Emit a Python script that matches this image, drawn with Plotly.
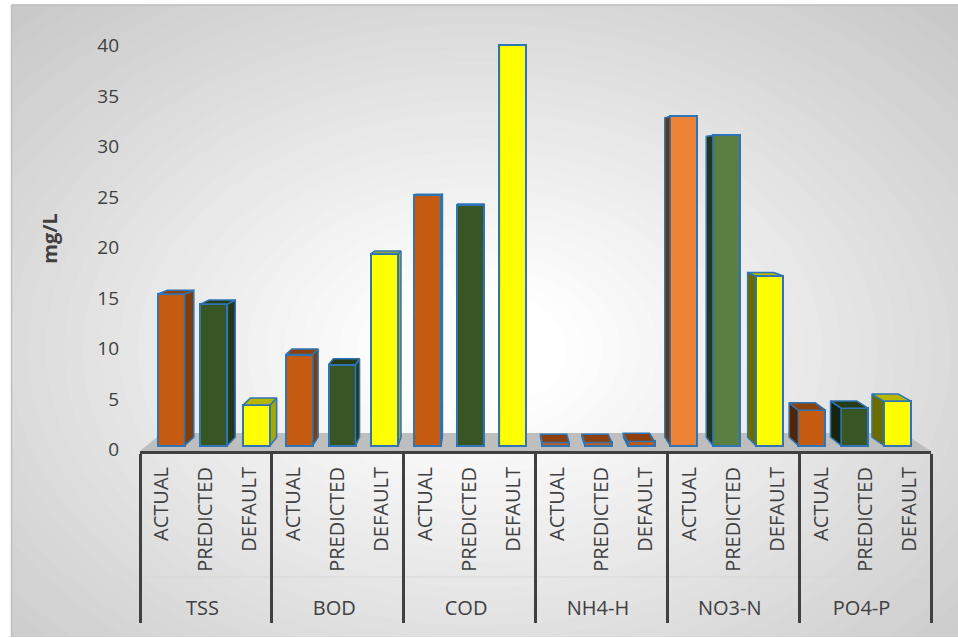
import plotly.graph_objects as go

# ---------------- data ----------------
groups = ["TSS", "BOD", "COD", "NH4-H", "NO3-N", "PO4-P"]
series = ["ACTUAL", "PREDICTED", "DEFAULT"]
actual = [15.0, 9.0, 24.8, 0.3, 32.6, 3.5]
predicted = [14.0, 8.0, 23.8, 0.3, 30.7, 3.7]
default = [4.0, 19.0, 39.7, 0.4, 16.8, 4.4]
y_ticks = [0, 5, 10, 15, 20, 25, 30, 35, 40]
y_title = "mg/L"

# ---------------- styling ----------------
ORANGE, GREEN, YELLOW = "#C55A11", "#375623", "#FFFF00"
OUTLINE = "#2E75B6"
TEXT = "#404040"
W, H = 958, 638
L, R, T, B = 140, 931, 26, 451          # plot area in pixels
PX_PER_UNIT = 10.1
YMIN = -5.5 / PX_PER_UNIT
YMAX = YMIN + (B - T) / PX_PER_UNIT
LABEL_PAD = "\u00a0\u00a0"               # spacing so the group row sits lower

# perspective for the 3D look (in data units)
NCAT = len(groups) * len(series)
XV = (490 - L) / ((R - L) / NCAT) - 0.5
YV = (445.5 - 167) / PX_PER_UNIT
FRONT_SHIFT = 0.028
DEPTH = 0.97
BAR_W = 0.615

def shade(hexc, f):
    hexc = hexc.lstrip("#")
    r, g, b = (int(hexc[i:i + 2], 16) for i in (0, 2, 4))
    return "#%02X%02X%02X" % (int(r * f), int(g * f), int(b * f))

def proj(x, y, f=DEPTH):
    return XV + (x - XV) * f, YV + (y - YV) * f

# flatten
xg, xs, vals, cols, idx = [], [], [], [], []
k = 0
for gi, g in enumerate(groups):
    for si, (s, arr) in enumerate(zip(series, [actual, predicted, default])):
        xg.append(g)
        xs.append(LABEL_PAD + s)
        vals.append(arr[gi])
        if g == "NH4-H":
            c = ORANGE
        elif g == "NO3-N":
            c = ["#EE8236", "#5A7F43", YELLOW][si]
        else:
            c = [ORANGE, GREEN, YELLOW][si]
        cols.append(c)
        idx.append(k)
        k += 1

shifts = [(XV - i) * FRONT_SHIFT for i in idx]
offsets = [s - BAR_W / 2 for s in shifts]

fig = go.Figure()
fig.add_trace(go.Bar(
    x=[xg, xs], y=vals, width=BAR_W, offset=offsets,
    marker=dict(color=cols, line=dict(color=OUTLINE, width=2)),
    showlegend=False,
))

# side and top faces
for i, v, c, s in zip(idx, vals, cols, shifts):
    x0 = i + s - BAR_W / 2
    x1 = i + s + BAR_W / 2
    faces = []
    if XV > x1:
        a, b = proj(x1, v), proj(x1, 0)
        faces.append(([x1, x1, a[0], b[0], x1], [0, v, a[1], b[1], 0], shade(c, 0.66)))
    elif XV < x0:
        a, b = proj(x0, v), proj(x0, 0)
        faces.append(([x0, x0, a[0], b[0], x0], [0, v, a[1], b[1], 0], shade(c, 0.42)))
    if YV > v:
        a, b = proj(x1, v), proj(x0, v)
        faces.append(([x0, x1, a[0], b[0], x0], [v, v, a[1], b[1], v], shade(c, 0.72)))
    for fx, fy, fc in faces:
        fig.add_trace(go.Scatter(
            x=fx, y=fy, xaxis="x2", yaxis="y", mode="lines", fill="toself",
            fillcolor=fc, line=dict(color=OUTLINE, width=1.5),
            hoverinfo="skip", showlegend=False,
        ))

# ---------------- background (radial gradient via shapes) ----------------
def xp(X):
    return (X - L) / (R - L)

def yp(Y):
    return (B - Y) / (B - T)

shapes = []
CX, CY, RX, RY = 480, 350, 620, 430
steps = 44
for n in range(steps):
    t = 1.35 - n * (1.3 / steps)
    g = 255 - (255 - 198) * min(max((t - 0.15) / 1.0, 0), 1)
    gc = "#%02X%02X%02X" % (int(g), int(g), int(g))
    shapes.append(dict(type="circle", xref="paper", yref="paper", layer="below",
                       x0=xp(CX - RX * t), x1=xp(CX + RX * t),
                       y0=yp(CY + RY * t), y1=yp(CY - RY * t),
                       fillcolor=gc, line=dict(width=0)))
# white margins outside the chart area
shapes.append(dict(type="rect", xref="paper", yref="paper", layer="below",
                   x0=xp(-50), x1=xp(11.5), y0=yp(700), y1=yp(-50),
                   fillcolor="white", line=dict(width=0)))
shapes.append(dict(type="rect", xref="paper", yref="paper", layer="below",
                   x0=xp(-50), x1=xp(1000), y0=yp(4.5), y1=yp(-50),
                   fillcolor="white", line=dict(width=0)))
shapes.append(dict(type="rect", xref="paper", yref="paper", layer="below",
                   x0=xp(-50), x1=xp(1000), y0=yp(700), y1=yp(637),
                   fillcolor="white", line=dict(width=0)))
# chart border
shapes.append(dict(type="line", xref="paper", yref="paper", layer="below",
                   x0=xp(11.5), x1=xp(1000), y0=yp(5), y1=yp(5),
                   line=dict(color="#BFBFBF", width=1.5)))
shapes.append(dict(type="line", xref="paper", yref="paper", layer="below",
                   x0=xp(11.5), x1=xp(11.5), y0=yp(5), y1=yp(637),
                   line=dict(color="#BFBFBF", width=1.5)))
# faint separator between the two label rows
shapes.append(dict(type="line", xref="paper", yref="paper", layer="below",
                   x0=0, x1=1, y0=yp(577), y1=yp(577),
                   line=dict(color="#D6D6D6", width=1)))

# floor
def to_paper_x(xu):
    return (xu + 0.5) / NCAT

def to_paper_y(yu):
    return (yu - YMIN) / (YMAX - YMIN)

FLOOR_F = 0.9366
fl = [(-0.5, YMIN), (NCAT - 0.5, YMIN)]
fl += [proj(NCAT - 0.5, YMIN, FLOOR_F), proj(-0.5, YMIN, FLOOR_F)]
path = "M " + " L ".join("%.5f,%.5f" % (to_paper_x(a), to_paper_y(b)) for a, b in fl) + " Z"
shapes.append(dict(type="path", xref="paper", yref="paper", layer="below", path=path,
                   fillcolor="#BEBEBE", line=dict(width=0)))

fig.update_layout(
    width=W, height=H,
    margin=dict(l=L, r=W - R, t=T, b=H - B, pad=0),
    paper_bgcolor="white",
    plot_bgcolor="rgba(0,0,0,0)",
    font=dict(family="Open Sans, sans-serif", color=TEXT, size=20),
    shapes=shapes,
    showlegend=False,
    bargap=0,
    xaxis=dict(
        type="multicategory", showline=True, linecolor=TEXT, linewidth=3,
        showdividers=True, dividercolor=TEXT, dividerwidth=3,
        tickangle=-90, ticks="", showgrid=False, ticklabelstandoff=5,
        tickfont=dict(size=20, color=TEXT),
    ),
    xaxis2=dict(overlaying="x", range=[-0.5, NCAT - 0.5], visible=False,
                anchor="y", fixedrange=True),
    yaxis=dict(
        range=[YMIN, YMAX], tickvals=y_ticks, showgrid=False, zeroline=False,
        showline=False, ticks="", tickfont=dict(size=19, color=TEXT),
        ticklabelstandoff=20, ticklabelshift=4,
        title=dict(text="<b>" + y_title + "</b>", font=dict(size=20, color=TEXT),
                   standoff=34),
    ),
)

fig.write_html("out.html")
